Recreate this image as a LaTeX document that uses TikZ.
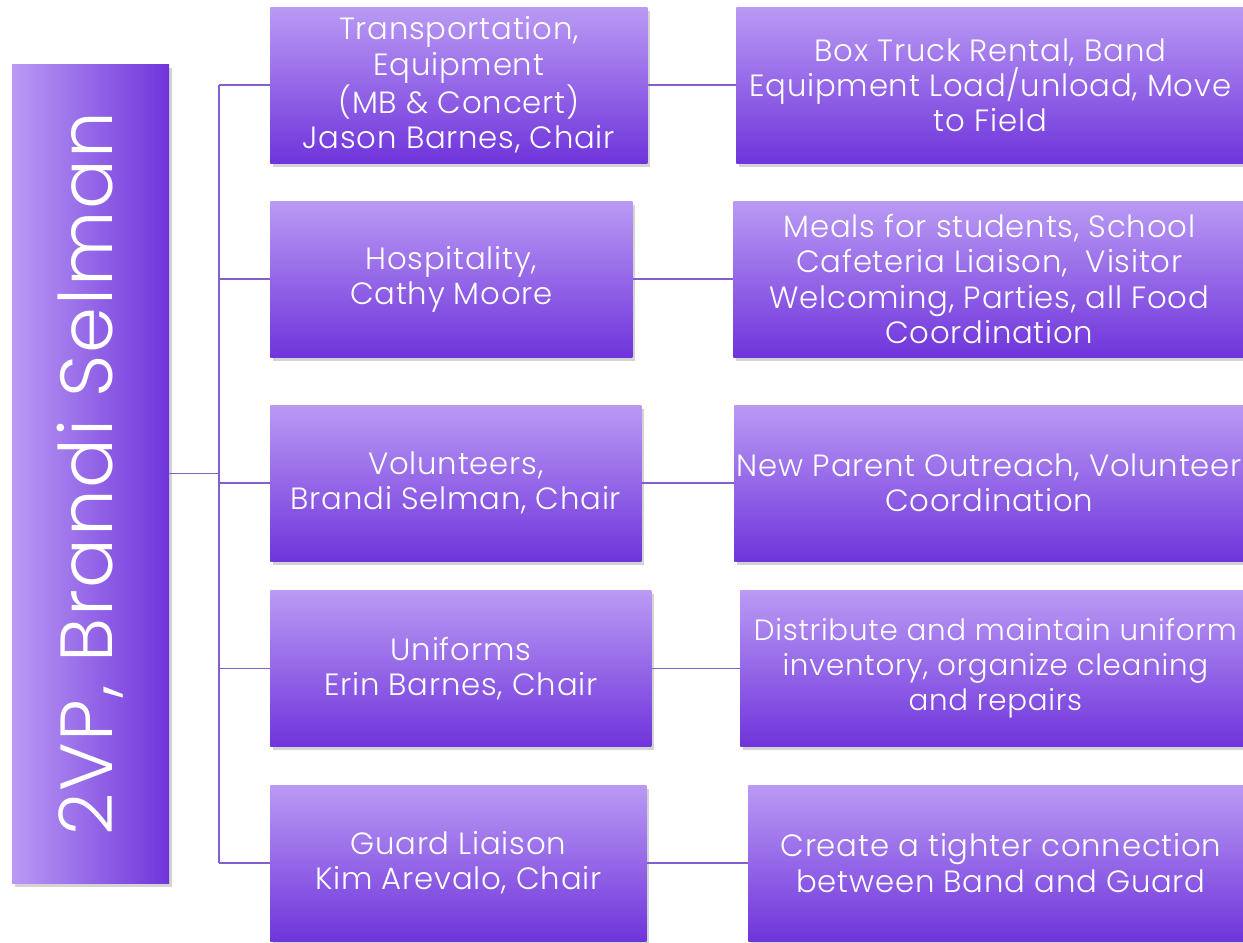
\documentclass[tikz,border=0pt]{standalone}
\usepackage{fontspec}
\setmainfont{Poppins}[UprightFont={* Light}, LetterSpace=2.5]
\usepackage{xcolor}
\usetikzlibrary{shadows}

\definecolor{boxtop}{RGB}{186,154,244}
\definecolor{boxbot}{RGB}{111,52,219}
\definecolor{linkcol}{RGB}{132,94,204}

\tikzset{
  box/.style={anchor=west, minimum height=3.12cm, inner sep=0pt, text=white, align=center,
    font=\fontsize{17.5}{20}\selectfont, top color=boxtop, bottom color=boxbot,
    drop shadow={shadow xshift=0.05cm, shadow yshift=-0.07cm, opacity=0.35}},
  link/.style={draw=linkcol, line width=1.1pt}
}

\begin{document}
\begin{tikzpicture}
  \useasboundingbox (0,0) rectangle (24.86,-18.84);
  % left column
  \node[box, anchor=center, minimum width=3.14cm, minimum height=16.38cm, left color=boxtop, right color=boxbot] (vp) at (1.81,-9.47) {};
  \node[rotate=90, text=white, font=\fontsize{42}{50}\selectfont] (vptext) at (vp.center) {2VP, Brandi Selman};
  % committees
  \node[box, minimum width=7.54cm] (trans) at (5.40,-1.70) {Transportation,\\Equipment\\(MB \& Concert)\\Jason Barnes, Chair};
  \node[box, minimum width=7.24cm] (hosp) at (5.40,-5.58) {Hospitality,\\Cathy Moore};
  \node[box, minimum width=7.42cm] (vol) at (5.40,-9.66) {Volunteers,\\Brandi Selman, Chair};
  \node[box, minimum width=7.62cm] (unif) at (5.40,-13.37) {Uniforms\\Erin Barnes, Chair};
  \node[box, minimum width=7.52cm] (guard) at (5.40,-17.26) {Guard Liaison\\Kim Arevalo, Chair};
  % duties
  \node[box, minimum width=10.16cm] (transd) at (14.72,-1.70) {Box Truck Rental, Band\\Equipment Load/unload, Move\\to Field};
  \node[box, minimum width=10.24cm] (hospd) at (14.66,-5.58) {Meals for students, School\\Cafeteria Liaison,\ \ Visitor\\Welcoming, Parties, all Food\\Coordination};
  \node[box, minimum width=10.20cm] (vold) at (14.68,-9.66) {New Parent Outreach, Volunteer\\Coordination};
  \node[box, minimum width=10.20cm, font=\fontsize{16.7}{20}\selectfont] (unifd) at (14.80,-13.37) {Distribute and maintain uniform\\inventory, organize cleaning\\and repairs};
  \node[box, minimum width=10.10cm] (guardd) at (14.96,-17.26) {Create a tighter connection\\between Band and Guard};
  % connectors
  \coordinate (spine) at (4.38,-9.47);
  \draw[link] (vp.east) -- (spine);
  \draw[link] (trans.west -| spine) -- (guard.west -| spine);
  \foreach \c in {trans,hosp,vol,unif,guard} {
    \draw[link] (\c.west -| spine) -- (\c.west);
    \draw[link] (\c.east) -- (\c d.west);
  }
\end{tikzpicture}
\end{document}
